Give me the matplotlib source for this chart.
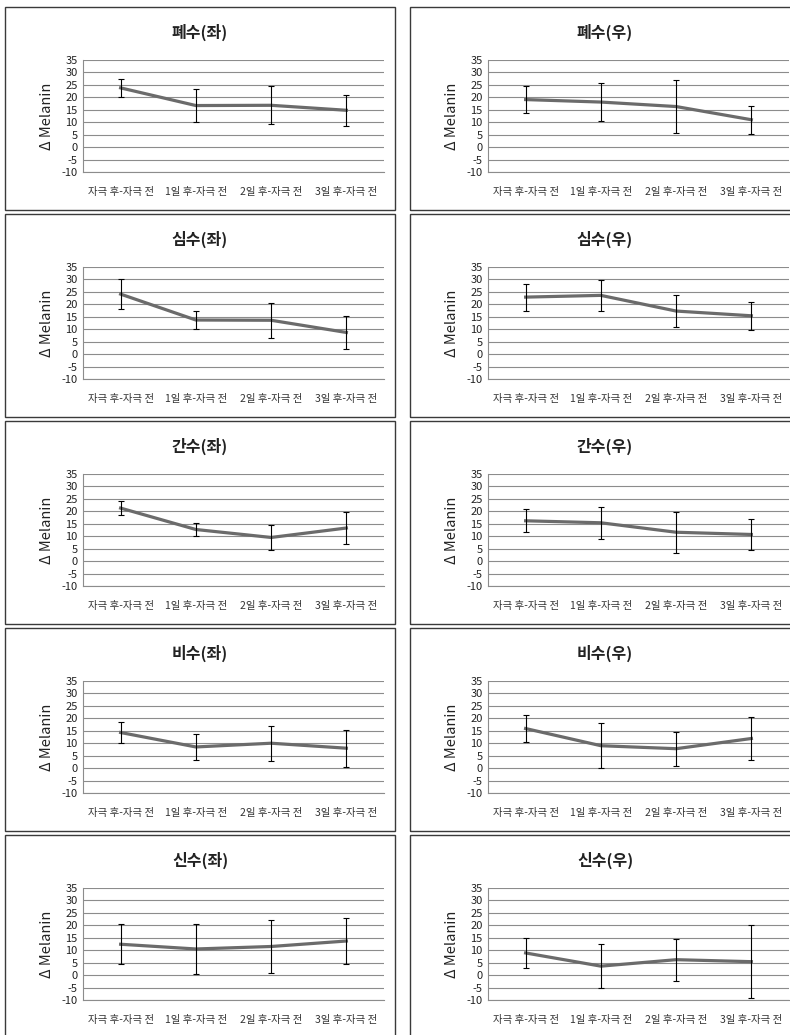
import numpy as np
import matplotlib.pyplot as plt
from matplotlib.patches import Rectangle

plt.rcParams['font.family'] = ['Noto Sans CJK KR', 'DejaVu Sans']
plt.rcParams['axes.unicode_minus'] = False

# 범주 (x 축)
categories = ['자극 후-자극 전', '1일 후-자극 전', '2일 후-자극 전', '3일 후-자극 전']

# 패널 제목
titles = ['폐수(좌)', '폐수(우)', '심수(좌)', '심수(우)', '간수(좌)',
          '간수(우)', '비수(좌)', '비수(우)', '신수(좌)', '신수(우)']

# 평균값 (Δ Melanin)
pye_l = [23.8, 16.7, 16.8, 14.8]
pye_r = [19.1, 18.1, 16.3, 11.0]
sim_l = [24.1, 13.7, 13.6, 8.7]
sim_r = [22.9, 23.6, 17.3, 15.4]
gan_l = [21.3, 12.7, 9.5, 13.3]
gan_r = [16.2, 15.4, 11.6, 10.7]
bi_l = [14.3, 8.5, 10.0, 8.0]
bi_r = [15.9, 9.0, 7.8, 11.9]
sin_l = [12.4, 10.5, 11.5, 13.7]
sin_r = [8.9, 3.6, 6.2, 5.4]

# 표준편차 (오차 막대)
pye_l_err = [3.5, 6.8, 7.6, 6.3]
pye_r_err = [5.3, 7.8, 10.6, 5.6]
sim_l_err = [5.9, 3.8, 7.0, 6.7]
sim_r_err = [5.4, 6.1, 6.4, 5.6]
gan_l_err = [2.8, 2.7, 5.0, 6.5]
gan_r_err = [4.6, 6.4, 8.2, 6.3]
bi_l_err = [4.3, 5.4, 7.0, 7.5]
bi_r_err = [5.6, 9.0, 6.8, 8.5]
sin_l_err = [8.0, 9.9, 10.5, 9.2]
sin_r_err = [6.1, 8.8, 8.4, 14.7]

means = [pye_l, pye_r, sim_l, sim_r, gan_l, gan_r, bi_l, bi_r, sin_l, sin_r]
errs = [pye_l_err, pye_r_err, sim_l_err, sim_r_err, gan_l_err,
        gan_r_err, bi_l_err, bi_r_err, sin_l_err, sin_r_err]

W, H = 790, 1035
fig = plt.figure(figsize=(W / 100, H / 100), dpi=100)

def fx(px):
    return px / W

def fy(py):
    return 1 - py / H

box_left = [5, 410]
box_w = 390
box_h = 203
x = np.arange(len(categories))

for i in range(10):
    row, col = divmod(i, 2)
    bx = box_left[col]
    by = 7 + 207 * row

    # 바깥 테두리
    fig.add_artist(Rectangle((fx(bx), fy(by + box_h)), box_w / W, box_h / H,
                             transform=fig.transFigure, fill=False,
                             edgecolor='#3a3a3a', linewidth=1.0))

    # 플롯 영역
    ax_l = bx + 78
    ax_r = bx + 379
    ax_t = by + 53
    ax_b = by + 165
    ax = fig.add_axes([fx(ax_l), fy(ax_b), (ax_r - ax_l) / W, (ax_b - ax_t) / H])

    ax.plot(x, means[i], color='#6b6b6b', linewidth=2.3, zorder=3)
    ax.errorbar(x, means[i], yerr=errs[i], fmt='none', ecolor='black',
                elinewidth=0.8, capsize=2.5, capthick=0.8, zorder=4)

    ax.set_xlim(-0.5, 3.5)
    ax.set_ylim(-10, 35)
    ax.set_yticks(np.arange(-10, 36, 5))
    ax.set_xticks(x)
    ax.set_xticklabels(categories, fontsize=7.5, color='#333333')
    ax.tick_params(axis='y', labelsize=8, length=0, pad=4, colors='#222222')
    ax.tick_params(axis='x', length=0, pad=11)
    ax.grid(axis='y', color='#8c8c8c', linewidth=0.8)
    ax.set_axisbelow(True)
    for s in ['top', 'right']:
        ax.spines[s].set_visible(False)
    for s in ['left', 'bottom']:
        ax.spines[s].set_color('#8c8c8c')
        ax.spines[s].set_linewidth(0.8)

    ax.set_ylabel('Δ Melanin', fontsize=10.5, color='#222222', labelpad=5)
    fig.text(fx(bx + box_w / 2), fy(by + 25), titles[i], ha='center',
             va='center', fontsize=11.5, fontweight='bold', color='#222222')

fig.savefig('out.png', dpi=100, facecolor='white')
